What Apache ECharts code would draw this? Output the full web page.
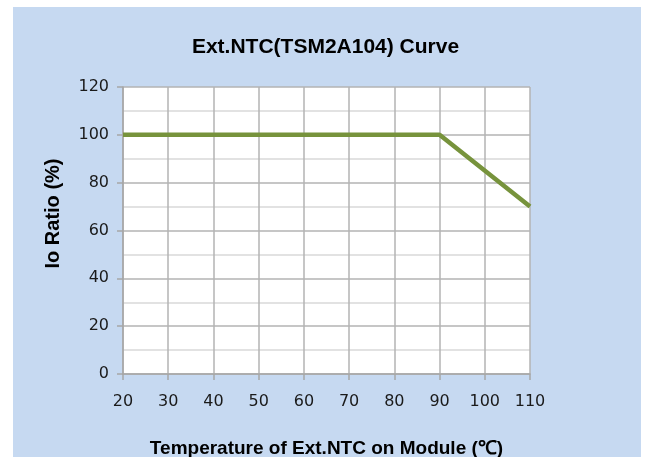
<!DOCTYPE html>
<html>
<head>
<meta charset="utf-8">
<script src="https://cdn.jsdelivr.net/npm/echarts@6/dist/echarts.min.js"></script>
<style>
  html, body { margin: 0; padding: 0; background: #fff; }
  #chart { width: 651px; height: 457px; }
</style>
</head>
<body>
<div id="chart"></div>
<script>
// curve data
const temps = [20, 90, 110];
const ratios = [100, 100, 70];
const xTicks = [20, 30, 40, 50, 60, 70, 80, 90, 100, 110];
const yTicks = [0, 20, 40, 60, 80, 100, 120];

const chart = echarts.init(document.getElementById('chart'));
const font = 'Liberation Sans, Arial, sans-serif';
const option = {
    backgroundColor: '#fff',
    animation: false,
    graphic: [{
        type: 'rect',
        z: -10,
        shape: { x: 13, y: 7, width: 628, height: 450 },
        style: { fill: '#c6d9f1' }
    }],
    title: {
        text: 'Ext.NTC(TSM2A104) Curve',
        left: 'center',
        top: 32,
        textStyle: { fontFamily: font, fontSize: 21, fontWeight: 'bold', color: '#000' }
    },
    grid: {
        left: 123, right: 121, top: 87, bottom: 83,
        outerBoundsMode: 'none',
        containLabel: false,
        show: true,
        backgroundColor: '#fff',
        borderWidth: 0
    },
    xAxis: {
        type: 'value',
        min: xTicks[0],
        max: xTicks[xTicks.length - 1],
        interval: 10,
        name: 'Temperature of Ext.NTC on Module (℃)',
        nameLocation: 'middle',
        nameGap: 65,
        nameTextStyle: { fontFamily: font, fontSize: 19, fontWeight: 'bold', color: '#000' },
        axisLine: { lineStyle: { color: '#a6a6a6', width: 1.5 } },
        axisTick: { show: true, length: 6, lineStyle: { color: '#a6a6a6', width: 1.5 } },
        axisLabel: { fontFamily: 'DejaVu Sans, sans-serif', fontSize: 16, color: '#1a1a1a', margin: 20 },
        splitLine: { show: true, lineStyle: { color: '#b3b3b3', width: 1.5 } }
    },
    yAxis: {
        type: 'value',
        min: yTicks[0],
        max: yTicks[yTicks.length - 1],
        interval: 20,
        name: 'Io Ratio (%)',
        nameLocation: 'middle',
        nameGap: 60,
        nameTextStyle: { fontFamily: font, fontSize: 20, fontWeight: 'bold', color: '#000', padding: [0, 0, 0, 34] },
        axisLine: { show: true, lineStyle: { color: '#a6a6a6', width: 1.5 } },
        axisTick: { show: true, length: 6, lineStyle: { color: '#a6a6a6', width: 1.5 } },
        axisLabel: { fontFamily: 'DejaVu Sans, sans-serif', fontSize: 16, color: '#1a1a1a', margin: 14 },
        splitLine: { show: true, lineStyle: { color: '#b3b3b3', width: 1.5 } },
        minorTick: { show: false, splitNumber: 2 },
        minorSplitLine: { show: true, lineStyle: { color: '#d9d9d9', width: 1.5 } }
    },
    series: [{
        type: 'line',
        data: temps.map((t, i) => [t, ratios[i]]),
        showSymbol: false,
        lineStyle: { color: '#77933c', width: 4.5 },
        z: 5
    }]
};
chart.setOption(option);
</script>
</body>
</html>
